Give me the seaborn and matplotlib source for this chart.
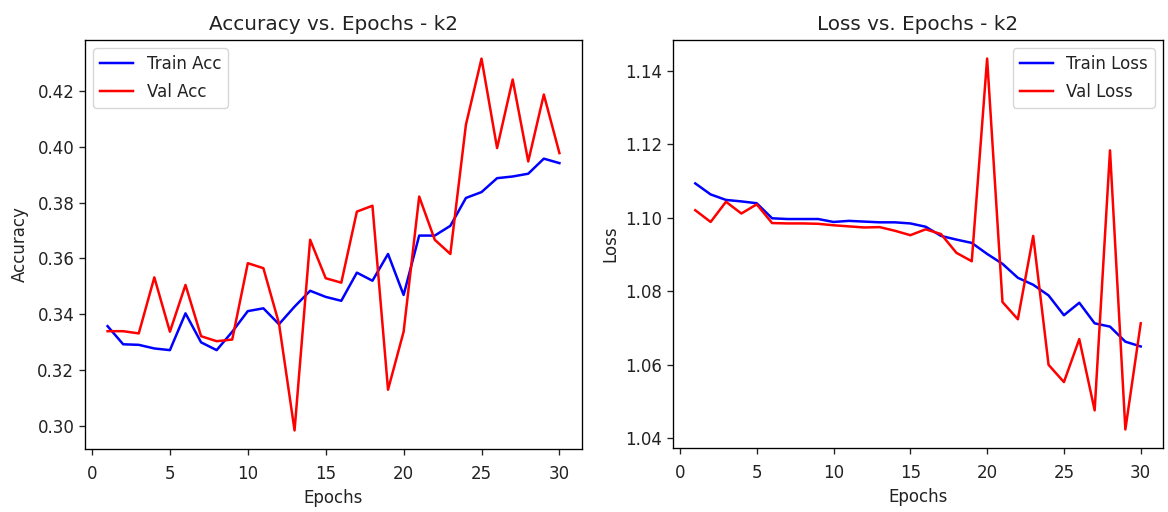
import matplotlib
matplotlib.use("Agg")
import matplotlib.pyplot as plt
import seaborn as sns
import numpy as np

epochs = list(range(1, 31))

train_acc = [0.3357, 0.3292, 0.3290, 0.3277, 0.3271, 0.3403, 0.3299, 0.3271, 0.3337, 0.3411,
             0.3421, 0.3364, 0.3427, 0.3484, 0.3462, 0.3448, 0.3549, 0.3520, 0.3616, 0.3469,
             0.3682, 0.3682, 0.3717, 0.3817, 0.3838, 0.3888, 0.3894, 0.3904, 0.3958, 0.3942]
val_acc = [0.3339, 0.3339, 0.3331, 0.3532, 0.3337, 0.3505, 0.3321, 0.3303, 0.3309, 0.3583,
           0.3565, 0.3367, 0.2983, 0.3667, 0.3529, 0.3513, 0.3768, 0.3789, 0.3129, 0.3337,
           0.3822, 0.3667, 0.3616, 0.4080, 0.4317, 0.3996, 0.4242, 0.3948, 0.4188, 0.3978]

train_loss = [1.1094, 1.1064, 1.1049, 1.1045, 1.1040, 1.0999, 1.0997, 1.0997, 1.0997, 1.0989,
              1.0992, 1.0990, 1.0988, 1.0988, 1.0985, 1.0976, 1.0951, 1.0941, 1.0932, 1.0902,
              1.0875, 1.0837, 1.0818, 1.0789, 1.0735, 1.0769, 1.0713, 1.0704, 1.0663, 1.0650]
val_loss = [1.1021, 1.0989, 1.1044, 1.1012, 1.1037, 1.0986, 1.0985, 1.0985, 1.0984, 1.0980,
            1.0977, 1.0974, 1.0975, 1.0965, 1.0953, 1.0969, 1.0956, 1.0905, 1.0882, 1.1434,
            1.0771, 1.0724, 1.0951, 1.0600, 1.0553, 1.0670, 1.0476, 1.1184, 1.0424, 1.0713]

s = 1.2
plt.rcParams.update({
    "font.size": 10 * s,
    "axes.titlesize": 12 * s,
    "axes.labelsize": 10 * s,
    "xtick.labelsize": 10 * s,
    "ytick.labelsize": 10 * s,
    "legend.fontsize": 10 * s,
    "legend.labelspacing": 0.6,
    "axes.linewidth": 0.8 * s,
    "xtick.major.width": 0.8 * s,
    "ytick.major.width": 0.8 * s,
    "xtick.major.size": 3.5 * s,
    "ytick.major.size": 3.5 * s,
    "xtick.major.pad": 7.5,
    "text.color": "#222222",
    "axes.labelcolor": "#222222",
    "xtick.color": "#222222",
    "ytick.color": "#222222",
})

fig = plt.figure(figsize=(11.68, 5.12), dpi=100)
ax1 = fig.add_axes([85 / 1168, 1 - 449 / 512, 497 / 1168, 409 / 512])
ax2 = fig.add_axes([673 / 1168, 1 - 448 / 512, 490 / 1168, 408 / 512])

lw = 1.5 * s

sns.lineplot(x=epochs, y=train_acc, ax=ax1, color="blue", label="Train Acc", linewidth=lw)
sns.lineplot(x=epochs, y=val_acc, ax=ax1, color="red", label="Val Acc", linewidth=lw)
ax1.set_title("Accuracy vs. Epochs - k2", pad=6 * s)
ax1.set_xlabel("Epochs")
ax1.set_ylabel("Accuracy", labelpad=6)
ax1.legend(loc="upper left")

sns.lineplot(x=epochs, y=train_loss, ax=ax2, color="blue", label="Train Loss", linewidth=lw)
sns.lineplot(x=epochs, y=val_loss, ax=ax2, color="red", label="Val Loss", linewidth=lw)
ax2.set_title("Loss vs. Epochs - k2", pad=6 * s)
ax2.set_xlabel("Epochs")
ax2.set_ylabel("Loss")
ax2.legend(loc="upper right")

fig.savefig("out.png", dpi=100)
